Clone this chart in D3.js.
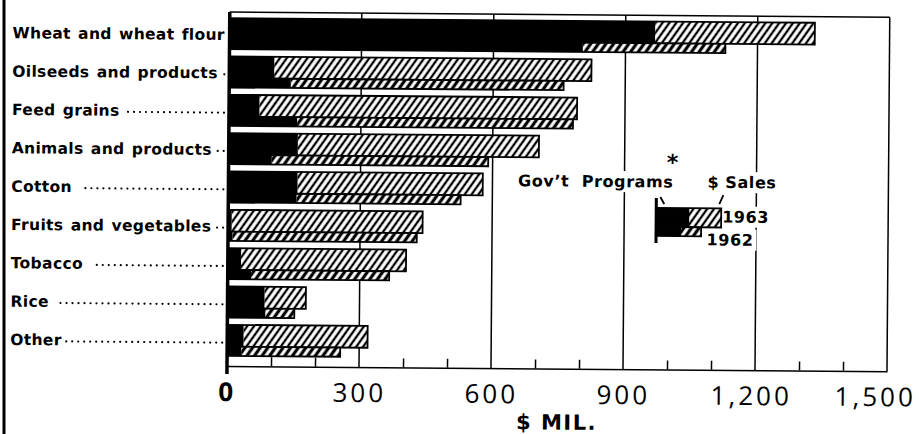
<!DOCTYPE html>
<html lang="en">
  <meta charset="utf-8">
  <style>
    body { margin: 0; background: #fff; }
    svg { display: block; }
    text { white-space: pre; }
  </style>
  <body>
    <svg width="919" height="434"></svg>

    <script src="https://d3js.org/d3.v7.min.js"></script>
    <script>
    // categories, top to bottom (trailing space = gap before the leader dots)
    let categories = ['Wheat and wheat flour', 'Oilseeds and products', 'Feed grains', 'Animals and products',
                      'Cotton ', 'Fruits and vegetables', 'Tobacco ', 'Rice ', 'Other']
    let hasDots = [false, true, true, true, true, true, true, true, true]

    // $ mil. -- government programs part and total (programs + sales)
    let gov1963   = [967, 102, 69, 157, 157, 8, 30, 84, 37]
    let total1963 = [1330, 823, 791, 705, 578, 442, 405, 178, 319]
    let gov1962   = [803, 140, 155, 98, 155, 10, 53, 86, 32]
    let total1962 = [1127, 760, 782, 590, 528, 429, 367, 152, 257]

    let tickValues = [0, 300, 600, 900, 1200, 1500]
    let tickLabels = ['0', '300', '600', '900', '1,200', '1,500']
    let minorTicks = [100, 200, 400, 500, 700, 800, 1000, 1100, 1300, 1400]

    let svg = d3.select('svg')

    // hatch patterns
    let defs = svg.append('defs')
    function hatch(id, w, sw) {
      let p = defs.append('pattern').attr('id', id)
        .attr('patternUnits', 'userSpaceOnUse')
        .attr('width', w).attr('height', 10)
        .attr('patternTransform', 'rotate(35)')
      p.append('rect').attr('width', w).attr('height', 10).attr('fill', '#fff')
      p.append('line').attr('x1', w / 2).attr('x2', w / 2).attr('y1', -1).attr('y2', 11)
        .attr('stroke', '#000').attr('stroke-width', sw)
    }
    hatch('h63', 5.6, 2.3)
    hatch('h62', 6.2, 3.2)

    // page edge on the left
    svg.append('line').attr('x1', 4).attr('x2', 4).attr('y1', 0).attr('y2', 434)
      .attr('stroke', '#000').attr('stroke-width', 3)

    // the scan is slightly tilted
    let g = svg.append('g').attr('transform', 'rotate(0.45 227 366)')

    let x = d3.scaleLinear().domain([0, 1500]).range([227, 887])
    let y = d3.scaleBand().domain(categories).range([12, 357])
    let bw = y.bandwidth()
    let yTop = 12, yBase = 366

    // grid lines
    g.append('g').selectAll('line')
      .data(tickValues.slice(1)).enter()
      .append('line')
      .attr('x1', d => x(d)).attr('x2', d => x(d))
      .attr('y1', yTop).attr('y2', yBase)
      .attr('stroke', '#000').attr('stroke-width', 1.5)

    g.append('line').attr('x1', x(0)).attr('x2', x(1500)).attr('y1', yTop).attr('y2', yTop)
      .attr('stroke', '#000').attr('stroke-width', 1.5)

    // bars
    let rows = []
    categories.forEach((c, i) => {
      rows.push({ c: c, y0: y(c) + bw * 0.16, h: bw * 0.57, gov: gov1963[i], total: total1963[i], pat: 'h63' })
      rows.push({ c: c, y0: y(c) + bw * 0.73, h: bw * 0.24, gov: gov1962[i], total: total1962[i], pat: 'h62' })
    })
    let bars = g.append('g').selectAll('g').data(rows).enter().append('g')
    bars.append('rect')
      .attr('x', d => x(d.gov)).attr('y', d => d.y0)
      .attr('width', d => x(d.total) - x(d.gov)).attr('height', d => d.h)
      .attr('fill', d => 'url(#' + d.pat + ')')
    bars.append('rect')
      .attr('x', x(0)).attr('y', d => d.y0)
      .attr('width', d => x(d.gov) - x(0)).attr('height', d => d.h)
      .attr('fill', '#000')
    bars.append('rect')
      .attr('x', x(0)).attr('y', d => d.y0)
      .attr('width', d => x(d.total) - x(0)).attr('height', d => d.h)
      .attr('fill', 'none').attr('stroke', '#000').attr('stroke-width', 1.8)

    // bottom axis with short ticks
    let minorAxis = d3.axisBottom(x).tickValues(minorTicks).tickSize(-9).tickSizeOuter(0).tickFormat('')
    let ax = g.append('g').attr('transform', `translate(0,${yBase})`).call(minorAxis)
    ax.select('.domain').attr('stroke-width', 1.5)
    ax.selectAll('.tick line').attr('stroke-width', 1.5)

    let labelAxis = d3.axisBottom(x).tickValues(tickValues).tickSize(0)
      .tickFormat((d, i) => tickLabels[i])
    let lx = g.append('g').attr('transform', `translate(0,${yBase})`).call(labelAxis)
    lx.select('.domain').remove()
    lx.selectAll('text')
      .attr('y', 35).attr('dy', 0)
      .attr('font-family', 'Open Sans').attr('font-size', 26)
      .attr('letter-spacing', 3)
      .attr('font-weight', d => d === 0 ? 700 : 500)
      .attr('fill', '#000')
    lx.selectAll('text').filter(d => d === 1500).attr('dx', -12)
    lx.selectAll('text').filter(d => d === 1200).attr('dx', -4)

    // zero line
    g.append('line').attr('x1', x(0)).attr('x2', x(0)).attr('y1', yTop).attr('y2', yBase + 8)
      .attr('stroke', '#000').attr('stroke-width', 3.5)

    g.append('text').attr('x', 557).attr('y', 427)
      .attr('text-anchor', 'middle')
      .attr('font-family', 'DejaVu Sans').attr('font-weight', 'bold').attr('font-size', 21)
      .attr('letter-spacing', 1.5)
      .text('$ MIL.')

    // category labels with leader dots
    let labels = g.append('g').selectAll('text')
      .data(categories).enter()
      .append('text')
      .attr('x', 10).attr('y', d => y(d) + 28)
      .attr('font-family', 'DejaVu Sans').attr('font-weight', 'bold').attr('font-size', 15.5)
      .attr('letter-spacing', 0.35).attr('word-spacing', 1.5)
      .text(d => d)
    labels.each(function (d, i) {
      if (!hasDots[i]) return
      let end = 10 + this.getComputedTextLength() + 4
      let stop = x(0) - 5
      let n = Math.floor((stop - end) / 6)
      if (n < 0) return
      g.append('line')
        .attr('x1', stop - n * 6).attr('x2', stop + 0.1)
        .attr('y1', y(d) + 24).attr('y2', y(d) + 24)
        .attr('stroke', '#000').attr('stroke-width', 2.2)
        .attr('stroke-linecap', 'round').attr('stroke-dasharray', '0 6')
    })

    // legend
    let lg = g.append('g').attr('transform', 'translate(655,204.6)')
    function knockout(sel) {
      sel.each(function () {
        let b = this.getBBox()
        d3.select(this.parentNode).insert('rect', () => this)
          .attr('x', b.x - 3).attr('y', b.y - 1).attr('width', b.width + 6).attr('height', b.height + 2)
          .attr('fill', '#fff')
      })
    }
    let legText = [
      { t: 'Gov\u2019t  Programs', x: 17, y: -20.6, a: 'end', s: 16 },
      { t: '$ Sales', x: 51, y: -20.6, a: 'start', s: 16 },
      { t: '1963', x: 66, y: 14, a: 'start', s: 16 },
      { t: '1962', x: 50.5, y: 37, a: 'start', s: 16 }
    ]
    lg.selectAll('text.leg').data(legText).enter()
      .append('text').attr('class', 'leg')
      .attr('x', d => d.x).attr('y', d => d.y)
      .attr('text-anchor', d => d.a)
      .attr('font-family', 'DejaVu Sans').attr('font-weight', 'bold').attr('font-size', d => d.s)
      .attr('letter-spacing', 0.6)
      .text(d => d.t)
      .call(knockout)
    lg.append('text').attr('x', 16).attr('y', -38).attr('text-anchor', 'middle')
      .attr('font-family', 'DejaVu Sans').attr('font-weight', 'bold').attr('font-size', 22)
      .text('*')

    lg.append('rect').attr('x', 0).attr('y', 0).attr('width', 65).attr('height', 19)
      .attr('fill', 'url(#h63)').attr('stroke', '#000').attr('stroke-width', 1.8)
    lg.append('rect').attr('x', 0).attr('y', 0).attr('width', 33).attr('height', 19).attr('fill', '#000')
    lg.append('rect').attr('x', 0).attr('y', 19).attr('width', 45).attr('height', 9)
      .attr('fill', 'url(#h62)').attr('stroke', '#000').attr('stroke-width', 1.8)
    lg.append('rect').attr('x', 0).attr('y', 19).attr('width', 25).attr('height', 9).attr('fill', '#000')
    lg.append('line').attr('x1', 0).attr('x2', 0).attr('y1', -10).attr('y2', 35)
      .attr('stroke', '#000').attr('stroke-width', 3)
    lg.append('line').attr('x1', 4).attr('y1', -11).attr('x2', 8).attr('y2', -4)
      .attr('stroke', '#000').attr('stroke-width', 1.8)
    lg.append('line').attr('x1', 67).attr('y1', -13.4).attr('x2', 63).attr('y2', -4.4)
      .attr('stroke', '#000').attr('stroke-width', 1.8)
    </script>
</body>
</html>
